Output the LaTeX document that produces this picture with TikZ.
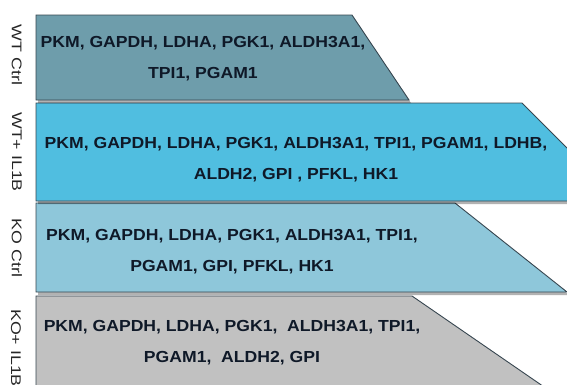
\documentclass[tikz,border=0pt]{standalone}
\usepackage{fontspec}
\usetikzlibrary{shadows}
\newfontfamily\genefont[FakeStretch=1.1]{Liberation Sans}
\newfontfamily\labfont[FakeStretch=1.27]{Liberation Sans}
\definecolor{wtctrl}{RGB}{110,157,171}
\definecolor{wtil}{RGB}{80,190,224}
\definecolor{koctrl}{RGB}{142,199,218}
\definecolor{koil}{RGB}{193,193,193}
\definecolor{edge}{RGB}{55,70,80}
\definecolor{txt}{RGB}{15,25,40}
\tikzset{
  band/.style={draw=edge, line width=0.9pt, line join=miter,
    drop shadow={shadow xshift=2pt, shadow yshift=-3pt, fill=black, opacity=0.3}},
  genes/.style={align=center, text=txt, inner sep=0pt,
    font=\genefont\bfseries\fontsize{16}{31}\selectfont},
  grp/.style={rotate=-90, text=black!85, inner sep=0pt,
    font=\labfont\fontsize{14}{16}\selectfont}
}
\begin{document}
\begin{tikzpicture}[x=1pt,y=-1pt]
\useasboundingbox (0,0) rectangle (567,384);
\clip (0,0) rectangle (567,384);
% bands, drawn from bottom to top so shadows fall on lower bands
\path[band, fill=koil] (36,296) -- (412,296) -- (566,402) -- (36,402) -- cycle;
\path[band, fill=koctrl] (36,203) -- (455,203) -- (567,292) -- (36,292) -- cycle;
\path[band, fill=wtil] (36,103) -- (522,103) -- (620,201) -- (36,201) -- cycle;
\path[band, fill=wtctrl] (36,15) -- (352,15) -- (409,100) -- (36,100) -- cycle;
% gene lists
\node[genes] (g1) at (203,59) {PKM, GAPDH, LDHA, PGK1, ALDH3A1,\\TPI1, PGAM1};
\node[genes] (g2) at (296,160) {PKM, GAPDH, LDHA, PGK1, ALDH3A1, TPI1, PGAM1, LDHB,\\ALDH2, GPI , PFKL, HK1};
\node[genes] (g3) at (232,252) {PKM, GAPDH, LDHA, PGK1, ALDH3A1, TPI1,\\PGAM1, GPI, PFKL, HK1};
\node[genes] (g4) at (232,343) {PKM, GAPDH, LDHA, PGK1,\ \ ALDH3A1, TPI1,\\PGAM1,\ \ ALDH2, GPI};
% group labels
\node[grp] (l1) at (17,55) {WT Ctrl};
\node[grp] (l2) at (17,152) {WT+ IL1B};
\node[grp] (l3) at (17,248) {KO Ctrl};
\node[grp] (l4) at (16,348) {KO+ IL1B};
\end{tikzpicture}
\end{document}
